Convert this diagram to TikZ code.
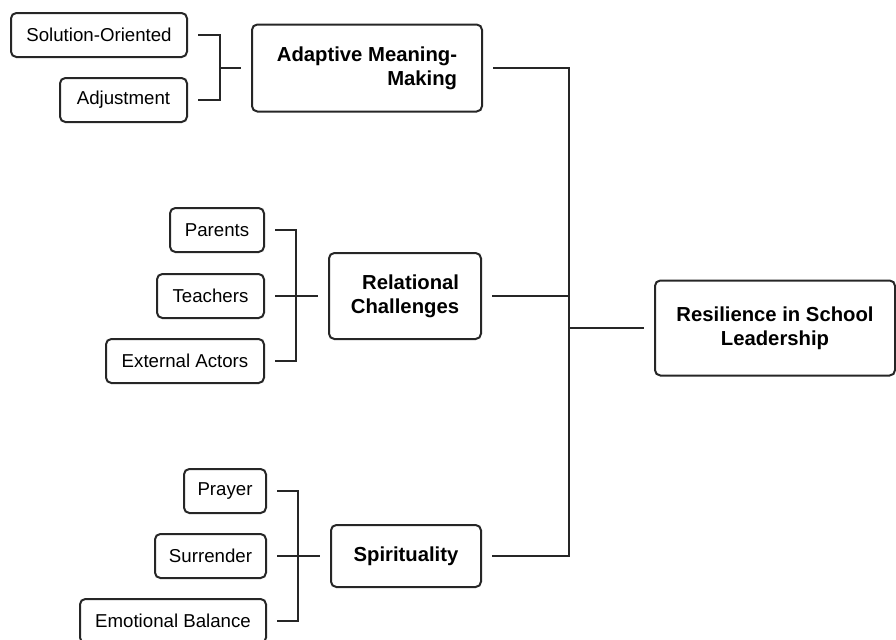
\documentclass[tikz,border=0pt]{standalone}
\usepackage{fontspec}
\setmainfont{Liberation Sans}
\usepackage{tikz}
\usetikzlibrary{calc}

\begin{document}
\begin{tikzpicture}[x=0.75pt, y=-0.75pt,
  leaf/.style={draw=black!85, line width=1.5pt, rounded corners=4pt, minimum height=33pt, align=right, inner sep=0pt, font=\fontsize{14}{17}\selectfont},
  theme/.style={draw=black!85, line width=1.5pt, rounded corners=4pt, align=right, inner sep=0pt, font=\fontsize{15.2}{18}\selectfont\bfseries},
  link/.style={black!85, line width=1.5pt}]
  \useasboundingbox (0,0) rectangle (896,639);
  % adaptive meaning-making
  \node[leaf, minimum width=132pt] (sol) at (99,35) {Solution-Oriented};
  \node[leaf, minimum width=95.25pt] (adj) at (123.5,100) {Adjustment};
  \node[theme, minimum width=172.5pt, minimum height=65.25pt] (ada) at (367,68) {Adaptive Meaning-\\Making};
  % relational challenges
  \node[leaf, minimum width=70.5pt] (par) at (217,230) {Parents};
  \node[leaf, minimum width=80.25pt] (tea) at (210.5,296) {Teachers};
  \node[leaf, minimum width=118.5pt] (ext) at (185,361) {External Actors};
  \node[theme, minimum width=114pt, minimum height=64.5pt] (rel) at (405,296) {Relational\\Challenges};
  % spirituality
  \node[leaf, minimum width=61.5pt] (pra) at (225,491) {Prayer};
  \node[leaf, minimum width=83.25pt] (sur) at (210.5,556) {Surrender};
  \node[leaf, minimum width=139.5pt] (emo) at (173,621) {Emotional Balance};
  \node[theme, minimum width=112.5pt, minimum height=46.5pt] (spi) at (406,556) {Spirituality};
  % root
  \node[theme, align=center, minimum width=180pt, minimum height=71.25pt] (res) at (775,328) {Resilience in School\\Leadership};

  \coordinate (adaJ) at (220,68);
  \coordinate (relJ) at (296,296);
  \coordinate (spiJ) at (298,556);
  \coordinate (bus) at (569,328);

  \draw[link] ([xshift=7.5pt]sol.east) -| (adaJ) -- ([xshift=-7.5pt]ada.west);
  \draw[link] ([xshift=7.5pt]adj.east) -| (adaJ);
  \draw[link] ([xshift=7.5pt]par.east) -| (relJ) -- ([xshift=-7.5pt]rel.west);
  \draw[link] ([xshift=7.5pt]tea.east) -- (relJ);
  \draw[link] ([xshift=7.5pt]ext.east) -| (relJ);
  \draw[link] ([xshift=7.5pt]pra.east) -| (spiJ) -- ([xshift=-7.5pt]spi.west);
  \draw[link] ([xshift=7.5pt]sur.east) -- (spiJ);
  \draw[link] ([xshift=7.5pt]emo.east) -| (spiJ);
  \draw[link] ([xshift=7.5pt]ada.east) -| (bus) -- ([xshift=-7.5pt]res.west);
  \draw[link] ([xshift=7.5pt]rel.east) -| (bus);
  \draw[link] ([xshift=7.5pt]spi.east) -| (bus);
\end{tikzpicture}
\end{document}
